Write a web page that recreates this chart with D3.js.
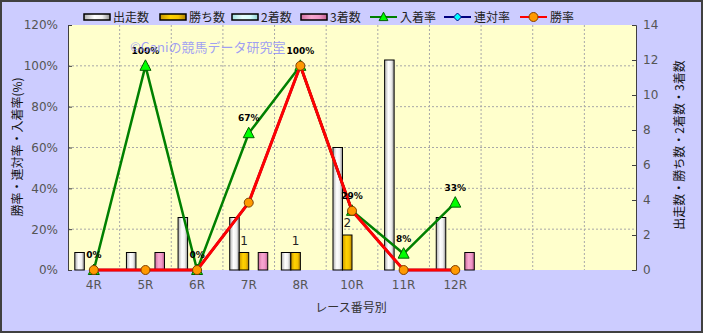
<!doctype html>
<html>
<head>
<meta charset='utf-8'>
<style>
body { margin:0; background:#fff; }
text { font-family: 'Noto Sans CJK JP', 'DejaVu Sans', sans-serif; }
</style>
</head>
<body>
<div id='chart'></div>
<script src='https://cdn.jsdelivr.net/npm/d3@7/dist/d3.min.js'></script>
<script>

const W = 703, H = 333;
const margin = {t:25, r:67, b:63, l:68};

// data
const raceLabels = ['4R','5R','6R','7R','8R','10R','11R','12R','','',''];
const starts  = [1, 1, 3, 3, 1, 7, 12, 3];
const wins    = [0, 0, 0, 1, 1, 2, 0, 0];
const seconds = [0, 0, 0, 0, 0, 0, 0, 0];
const thirds  = [0, 1, 0, 1, 0, 0, 0, 1];
const placeRate  = [0, 100, 0, 67, 100, 29, 8, 33];
const rentaiRate = [0, 0, 0, 33, 100, 29, 0, 0];
const winRate    = [0, 0, 0, 33, 100, 29, 0, 0];
const leftTicks  = [0, 20, 40, 60, 80, 100, 120];
const rightTicks = [0, 2, 4, 6, 8, 10, 12, 14];

const barSeries = [
  {name:'出走数', values:starts,  fill:'url(#gWhite)'},
  {name:'勝ち数', values:wins,    fill:'url(#gGold)'},
  {name:'2着数',  values:seconds, fill:'url(#gCyan)'},
  {name:'3着数',  values:thirds,  fill:'url(#gPink)'}
];
const lineSeries = [
  {name:'入着率', values:placeRate,  stroke:'#008000', mark:'tri',     mfill:'#00ff00', mstroke:'#006000'},
  {name:'連対率', values:rentaiRate, stroke:'#000080', mark:'diamond', mfill:'#00ffff', mstroke:'#000080'},
  {name:'勝率',   values:winRate,    stroke:'#ff0000', mark:'circle',  mfill:'#ff9900', mstroke:'#804000'}
];

const w = W - margin.l - margin.r;
const h = H - margin.t - margin.b;

const svg = d3.select('#chart').append('svg')
  .attr('width', W).attr('height', H);

const defs = svg.append('defs');
function grad(id, stops){
  const g = defs.append('linearGradient').attr('id', id)
    .attr('x1','0%').attr('x2','100%').attr('y1','0%').attr('y2','0%');
  stops.forEach(s => g.append('stop').attr('offset', s[0]).attr('stop-color', s[1]));
}
grad('gWhite', [['0%','#b0b0b0'],['40%','#ffffff'],['70%','#f0f0f0'],['100%','#909090']]);
grad('gGold',  [['0%','#c89600'],['40%','#ffd200'],['70%','#f5c400'],['100%','#b08000']]);
grad('gCyan',  [['0%','#a0e0e0'],['40%','#e8ffff'],['70%','#d8ffff'],['100%','#90d0d0']]);
grad('gPink',  [['0%','#d070a0'],['40%','#f8a8d0'],['70%','#f098c8'],['100%','#c06090']]);

// background + frame
svg.append('rect').attr('x',1).attr('y',1).attr('width',W-2).attr('height',H-2)
  .attr('fill','#ccccff').attr('stroke','#404040').attr('stroke-width',2);

const plot = svg.append('g').attr('transform', `translate(${margin.l},${margin.t})`);

const x = d3.scaleBand().domain(d3.range(raceLabels.length)).range([0, w]);
const xi = d3.scaleBand().domain(d3.range(barSeries.length))
  .range([6.8, x.bandwidth() - 6.8]);
const yL = d3.scaleLinear().domain([0, 120]).range([h, 0]);
const yR = d3.scaleLinear().domain([0, 14]).range([h, 0]);

plot.append('rect').attr('width', w).attr('height', h).attr('fill', '#ffffcc');

// grid
plot.append('g').selectAll('line').data(leftTicks.slice(1, -1)).enter().append('line')
  .attr('x1', 0).attr('x2', w)
  .attr('y1', d => yL(d)).attr('y2', d => yL(d))
  .attr('stroke', '#a8a8a8').attr('stroke-dasharray', '2,2');
plot.append('g').selectAll('line').data(d3.range(1, raceLabels.length)).enter().append('line')
  .attr('x1', d => x(d)).attr('x2', d => x(d))
  .attr('y1', 0).attr('y2', h)
  .attr('stroke', '#a8a8a8').attr('stroke-dasharray', '2,2');

// axes
const axL = plot.append('g').call(d3.axisLeft(yL).tickValues(leftTicks)
  .tickFormat(d => d + '%').tickSizeInner(-4).tickSizeOuter(-4).tickPadding(10));
const axR = plot.append('g').attr('transform', `translate(${w},0)`)
  .call(d3.axisRight(yR).tickValues(rightTicks).tickSizeInner(-4).tickSizeOuter(-4).tickPadding(7));
const axB = plot.append('g').attr('transform', `translate(0,${h})`)
  .call(d3.axisBottom(x).tickFormat(i => raceLabels[i]).tickSize(0).tickPadding(10));
[axL, axR, axB].forEach(a => {
  a.selectAll('text').attr('fill', '#555').style('font-size', '12px')
    .style('font-family', "'DejaVu Sans', sans-serif");
  a.selectAll('line').attr('stroke', '#404040');
  a.select('.domain').attr('stroke', '#404040');
});
axB.select('.domain').remove();

// bars
barSeries.forEach((s, si) => {
  plot.append('g').selectAll('rect').data(s.values.map((v, i) => ({v, i}))).enter()
    .filter(d => d.v > 0)
    .append('rect')
    .attr('x', d => x(d.i) + xi(si))
    .attr('y', d => yR(d.v))
    .attr('width', xi.bandwidth())
    .attr('height', d => h - yR(d.v))
    .attr('fill', s.fill).attr('stroke', '#000').attr('stroke-width', 1);
});

// win count labels
plot.append('g').selectAll('text').data(wins.map((v, i) => ({v, i}))).enter()
  .filter(d => d.v > 0)
  .append('text')
  .attr('x', d => x(d.i) + xi(1) + xi.bandwidth() / 2)
  .attr('y', d => yR(d.v) - 8)
  .attr('text-anchor', 'middle').style('font-size', '12px')
  .style('font-family', "'DejaVu Sans', sans-serif").attr('fill', '#222')
  .text(d => d.v);

// lines
const cx = i => x(i) + x.bandwidth() / 2;
function drawMark(g, type, size){
  if (type === 'tri') return g.append('path').attr('d', `M0,${-size*0.6}L${size*0.55},${size*0.45}L${-size*0.55},${size*0.45}Z`);
  if (type === 'diamond') return g.append('path').attr('d', `M0,-4L4,0L0,4L-4,0Z`);
  return g.append('circle').attr('r', 4.5);
}
[1, 0, 2].forEach(k => {
  const s = lineSeries[k];
  const line = d3.line().x((d, i) => cx(i)).y(d => yL(d));
  plot.append('path').datum(s.values).attr('d', line)
    .attr('fill', 'none').attr('stroke', s.stroke)
    .attr('stroke-width', k === 2 ? 3 : 2.5).attr('stroke-linejoin', 'round');
  s.values.forEach((v, i) => {
    const g = plot.append('g').attr('transform', `translate(${cx(i)},${yL(v)})`);
    drawMark(g, s.mark, 10).attr('fill', s.mfill).attr('stroke', s.mstroke).attr('stroke-width', 1);
  });
});

// place rate labels
plot.append('g').selectAll('text').data(placeRate.map((v, i) => ({v, i}))).enter()
  .append('text')
  .attr('x', d => cx(d.i)).attr('y', d => yL(d.v) - 12)
  .attr('text-anchor', 'middle')
  .style('font-size', '9px').style('font-weight', 'bold')
  .style('font-family', "'DejaVu Sans', sans-serif").attr('fill', '#000')
  .text(d => d.v + '%');

// watermark
svg.append('text').attr('x', 130).attr('y', 52)
  .style('font-size', '13px').attr('fill', '#8080ff').attr('fill-opacity', 0.75)
  .text('©Ganiの競馬データ研究室');

// titles
svg.append('text').attr('transform', 'translate(22,147) rotate(-90)')
  .attr('text-anchor', 'middle').style('font-size', '12px').attr('fill', '#111')
  .text('勝率・連対率・入着率(%)');
svg.append('text').attr('transform', 'translate(684,145) rotate(-90)')
  .attr('text-anchor', 'middle').style('font-size', '12px').attr('fill', '#111')
  .text('出走数・勝ち数・2着数・3着数');
svg.append('text').attr('x', 351).attr('y', 312)
  .attr('text-anchor', 'middle').style('font-size', '12px').attr('fill', '#333')
  .text('レース番号別');

// legend
const legendX = [84, 160, 232, 301, 370, 444, 520];
const legend = svg.append('g').attr('transform', 'translate(0,17)');
barSeries.forEach((s, i) => {
  const g = legend.append('g').attr('transform', `translate(${legendX[i]},0)`);
  g.append('rect').attr('x', 0).attr('y', -3).attr('width', 26).attr('height', 6)
    .attr('fill', s.fill).attr('stroke', '#000').attr('stroke-width', 1.5);
  g.append('text').attr('x', 29).attr('y', 4.5).style('font-size', '12px').attr('fill', '#222').text(s.name);
});
lineSeries.forEach((s, i) => {
  const g = legend.append('g').attr('transform', `translate(${legendX[i + 4]},0)`);
  g.append('line').attr('x1', 0).attr('x2', 27).attr('stroke', s.stroke).attr('stroke-width', 2);
  const m = g.append('g').attr('transform', 'translate(13.5,0)');
  drawMark(m, s.mark, 8).attr('fill', s.mfill).attr('stroke', s.mstroke).attr('stroke-width', 1);
  g.append('text').attr('x', 30).attr('y', 4.5).style('font-size', '12px').attr('fill', '#222').text(s.name);
});

</script>
</body>
</html>
